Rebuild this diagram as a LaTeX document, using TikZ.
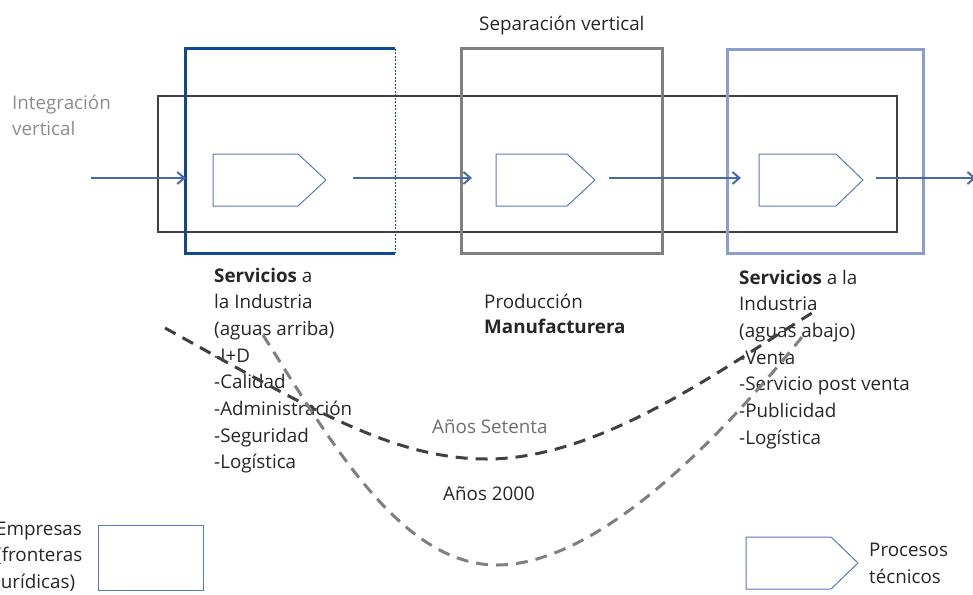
\documentclass[tikz,border=0pt]{standalone}
\usepackage{fontspec}
\setmainfont{Open Sans}
\usetikzlibrary{arrows.meta}
\definecolor{dblue}{RGB}{14,72,150}
\definecolor{arrowblue}{RGB}{74,104,172}
\definecolor{penblue}{RGB}{90,120,190}
\definecolor{boxgray}{RGB}{128,128,128}
\definecolor{lblue}{RGB}{140,156,205}
\definecolor{dgray}{RGB}{64,64,64}
\definecolor{txt}{RGB}{38,38,38}
\definecolor{ltxt}{RGB}{140,140,140}
\definecolor{mtxt}{RGB}{110,110,110}
\tikzset{
  bodytext/.style={font=\fontsize{18.8}{26.7}\selectfont, text=txt, align=left, inner sep=0pt, anchor=base west},
  flow/.style={draw=arrowblue, line width=2pt, -{Straight Barb[length=7pt,width=12pt,line width=2pt]}},
  penta/.style={draw=penblue, line width=1pt},
  era/.style={line width=3pt, dash pattern=on 12pt off 8pt},
}
\begin{document}
\begin{tikzpicture}[x=1pt,y=-1pt]
\useasboundingbox (0,0) rectangle (973,594);
% integration rectangle
\node[draw=dgray, line width=1.5pt, minimum width=739pt, minimum height=136pt, inner sep=0pt] (integ) at (527.5,164) {};
% company boxes
\node[draw=none, minimum width=209pt, minimum height=204pt, inner sep=0pt] (b1) at (290.5,151) {};
\draw[dblue, line width=3pt] (b1.north east) -- (b1.north west) -- (b1.south west) -- (b1.south east);
\draw[dblue, line width=1pt, dash pattern=on 2pt off 1.5pt] (b1.north east) -- (b1.south east);
\node[draw=boxgray, line width=3pt, minimum width=201pt, minimum height=204pt, inner sep=0pt] (b2) at (561.8,151) {};
\node[draw=lblue, line width=3pt, minimum width=196pt, minimum height=203pt, inner sep=0pt] (b3) at (825,151.5) {};
% process pentagons
\coordinate (p1w) at (213,180); \coordinate (p1e) at (326,180);
\draw[penta] (213,154) -- (298,154) -- (p1e) -- (298,206) -- (213,206) -- cycle;
\coordinate (p2w) at (496,180); \coordinate (p2e) at (595,180);
\draw[penta] (496,154) -- (567,154) -- (p2e) -- (567,206) -- (496,206) -- cycle;
\coordinate (p3w) at (759,180); \coordinate (p3e) at (863,180);
\draw[penta] (759,154) -- (836,154) -- (p3e) -- (836,206) -- (759,206) -- cycle;
% flow arrows
\coordinate (in) at (91,178);
\coordinate (out) at (976,178);
\draw[flow] (in) -- (b1.west |- in);
\draw[flow] (353,178) coordinate (a2s) -- (472,178) coordinate (a2e);
\draw[flow] (609,178) coordinate (a3s) -- (741,178) coordinate (a3e);
\draw[flow] (876,178) coordinate (a4s) -- (out);
% texts
\node[font=\fontsize{18.8}{20}\selectfont, text=txt, inner sep=0pt, anchor=base west] (sep) at (479,30.7) {Separación vertical};
\node[bodytext, text=ltxt] (intv) at (12,135.7) {Integración\\vertical};
\node[bodytext] (s1) at (214,468.9) {\textbf{Servicios} a\\la Industria\\(aguas arriba)\\-I+D\\-Calidad\\-Administración\\-Seguridad\\-Logística};
\node[bodytext, font=\fontsize{18.8}{25.5}\selectfont] (prod) at (484,333.5) {Producción\\\textbf{Manufacturera}};
\node[bodytext] (s3) at (739,444.2) {\textbf{Servicios} a la\\Industria\\(aguas abajo)\\-Venta\\-Servicio post venta\\-Publicidad\\-Logística};
\node[bodytext, text=mtxt] (setenta) at (432,433) {Años Setenta};
\node[bodytext] (dosmil) at (443,500) {Años 2000};
\node[bodytext] (emp) at (-4,588.4) {Empresas\\(fronteras\\jurídicas)};
\node[bodytext] (proc) at (869,583.4) {Procesos\\técnicos};
% legend shapes
\node[draw=penblue, line width=1pt, minimum width=105pt, minimum height=65pt, inner sep=0pt] (legbox) at (150.5,557.5) {};
\coordinate (legp) at (746,563);
\draw[penta] (746,537) -- (831,537) -- (858,563) -- (831,589) -- (746,589) -- cycle;
% era curves
\coordinate (st1) at (165,328); \coordinate (st2) at (487,459); \coordinate (st3) at (812,313);
\draw[era, draw=dgray] (st1) .. controls (305,405) and (390,459) .. (st2) .. controls (600,459) and (720,370) .. (st3);
\coordinate (dm1) at (263,335); \coordinate (dm2) at (497,565); \coordinate (dm3) at (802,337);
\draw[era, draw=boxgray] (dm1) .. controls (330,440) and (400,565) .. (dm2) .. controls (595,565) and (715,445) .. (dm3);
\end{tikzpicture}
\end{document}
